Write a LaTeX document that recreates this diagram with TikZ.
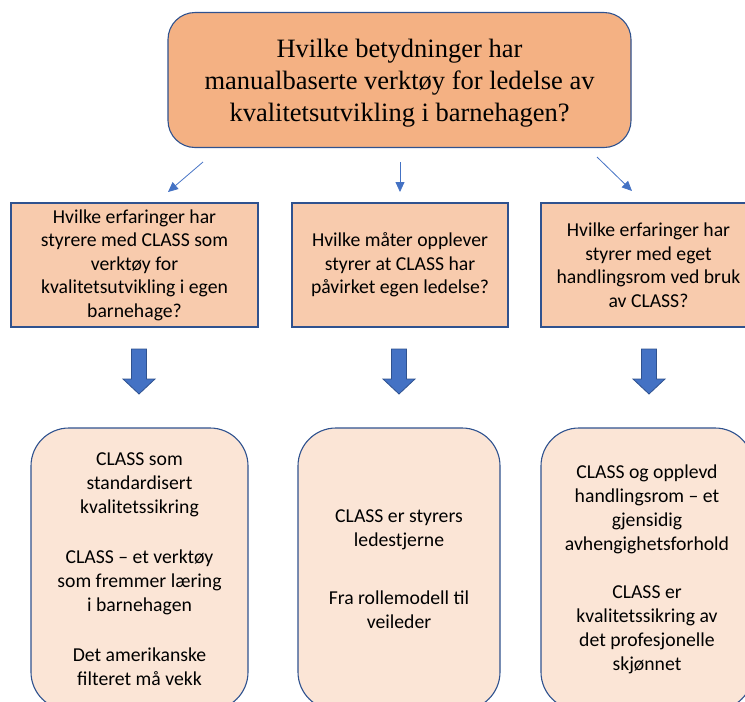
\documentclass[tikz,border=0pt]{standalone}
\usepackage{fontspec}
\setmainfont{Liberation Serif}
\newfontfamily\calfont{Carlito}
\usetikzlibrary{arrows.meta}
\definecolor{topfill}{HTML}{F4B183}
\definecolor{midfill}{HTML}{F8CBAD}
\definecolor{botfill}{HTML}{FBE5D6}
\definecolor{edgeblue}{HTML}{2F528F}
\definecolor{arrblue}{HTML}{4472C4}
\tikzset{
  topbox/.style={draw=edgeblue, line width=1.1pt, fill=topfill, rounded corners=27pt,
    minimum width=463pt, minimum height=135pt, inner sep=0pt},
  toptext/.style={inner sep=0pt, align=center, font=\fontsize{26.5}{32}\selectfont},
  midbox/.style={draw=edgeblue, line width=1.1pt, fill=midfill,
    minimum height=124pt, inner sep=0pt, align=center,
    font=\calfont\fontsize{19.7}{23.5}\selectfont},
  botbox/.style={draw=edgeblue, line width=1.1pt, fill=botfill, rounded corners=38pt,
    minimum height=282pt, inner sep=0pt, align=center,
    font=\calfont\fontsize{19.7}{24}\selectfont},
  thinarrow/.style={draw=arrblue, line width=0.8pt, -{Triangle[length=10pt,width=9pt]}},
  blockarrow/.style={draw=edgeblue, line width=0.8pt, fill=arrblue, line join=miter}
}
\begin{document}
\begin{tikzpicture}[x=1pt,y=-1pt]
\useasboundingbox (0,0) rectangle (745,702);
\clip (0,0) rectangle (745,702);

\node[topbox] (q) at (399.5,80) {};
\node[toptext] (qt) at (399.5,83) {Hvilke betydninger har\\manualbaserte verktøy for ledelse av\\kvalitetsutvikling i barnehagen?};

\node[midbox, minimum width=247pt] (m1) at (134.5,265) {Hvilke erfaringer har\\styrere med CLASS som\\verktøy for\\kvalitetsutvikling i egen\\barnehage?};
\node[midbox, minimum width=216pt] (m2) at (400,265) {Hvilke måter opplever\\styrer at CLASS har\\påvirket egen ledelse?};
\node[midbox, minimum width=215pt] (m3) at (648.5,265) {Hvilke erfaringer har\\styrer med eget\\handlingsrom ved bruk\\av CLASS?};

\node[botbox, minimum width=217pt] (b1) at (139.5,569) {CLASS som\\standardisert\\kvalitetssikring\\[26pt]CLASS – et verktøy\\som fremmer læring\\i barnehagen\\[26pt]Det amerikanske\\filteret må vekk};
\node[botbox, minimum width=202pt] (b2) at (399,569) {CLASS er styrers\\ledestjerne\\[34pt]Fra rollemodell til\\veileder};
\node[botbox, minimum width=212pt] (b3) at (647,569) {CLASS og opplevd\\handlingsrom – et\\gjensidig\\avhengighetsforhold\\[24pt]CLASS er\\kvalitetssikring av\\det profesjonelle\\skjønnet};

\coordinate (a1s) at (203,162);
\coordinate (a1e) at (168,192);
\coordinate (a2s) at (400,162);
\coordinate (a2e) at (400,192);
\coordinate (a3s) at (597,157);
\coordinate (a3e) at (632,191);
\draw[thinarrow] (a1s) -- (a1e);
\draw[thinarrow] (a2s) -- (a2e);
\draw[thinarrow] (a3s) -- (a3e);

\foreach \c/\n in {139/1,399/2,649/3}{
  \draw[blockarrow] (\c-7.5,349) -- (\c+7.5,349) -- (\c+7.5,379) -- (\c+16,379)
    -- (\c,394) -- (\c-16,379) -- (\c-7.5,379) -- cycle;
}
\end{tikzpicture}
\end{document}
